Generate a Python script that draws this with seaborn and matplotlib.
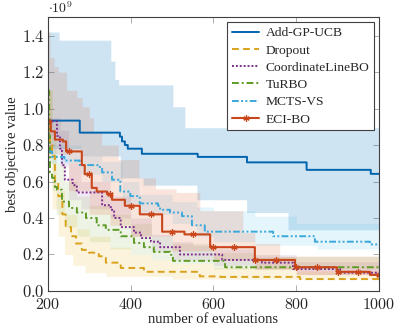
import numpy as np
import pandas as pd
import matplotlib
matplotlib.use("Agg")
import matplotlib.pyplot as plt
from matplotlib.ticker import FuncFormatter
import seaborn as sns

# ---------------- data (values in units of 1e9) ----------------
methods = ["Add-GP-UCB", "Dropout", "CoordinateLineBO", "TuRBO", "MCTS-VS", "ECI-BO"]

add_x = [200, 277, 374, 379, 386, 393, 427, 562, 681, 825, 980, 1000]
add_y = [0.934, 0.868, 0.846, 0.82, 0.80, 0.78, 0.752, 0.735, 0.705, 0.664, 0.642, 0.642]
add_up_x = [200, 227, 352, 362, 371, 502, 531, 1000]
add_up_y = [1.42, 1.375, 1.26, 1.16, 1.13, 1.01, 0.895, 0.895]
add_lo_x = [200, 280, 375, 430, 560, 680, 780, 1000]
add_lo_y = [0.78, 0.74, 0.62, 0.58, 0.50, 0.43, 0.335, 0.335]

drop_x = [200, 205, 210, 217, 225, 235, 243, 256, 268, 282, 299, 323, 340, 376, 432, 567, 616, 809, 1000]
drop_y = [0.90, 0.80, 0.74, 0.60, 0.52, 0.42, 0.35, 0.30, 0.26, 0.225, 0.21, 0.19, 0.155, 0.126, 0.105, 0.08, 0.077, 0.065, 0.055]
drop_up_x = [200, 210, 220, 240, 270, 300, 350, 400, 450, 500, 600, 800, 1000]
drop_up_y = [1.10, 0.75, 0.55, 0.42, 0.34, 0.30, 0.24, 0.20, 0.17, 0.15, 0.13, 0.11, 0.10]
drop_lo_x = [200, 210, 225, 240, 260, 290, 340, 500, 1000]
drop_lo_y = [0.70, 0.45, 0.30, 0.20, 0.14, 0.10, 0.08, 0.065, 0.045]

cl_x = [200, 222, 229, 234, 241, 260, 270, 331, 352, 360, 376, 408, 425, 449, 471, 519, 621, 717, 792, 906, 1000]
cl_y = [0.93, 0.85, 0.78, 0.69, 0.61, 0.58, 0.54, 0.47, 0.445, 0.40, 0.35, 0.32, 0.29, 0.27, 0.24, 0.20, 0.17, 0.155, 0.12, 0.10, 0.095]
cl_up_x = [200, 230, 250, 280, 350, 400, 450, 500, 550, 600, 700, 800, 1000]
cl_up_y = [0.95, 0.88, 0.70, 0.60, 0.52, 0.40, 0.31, 0.27, 0.25, 0.23, 0.20, 0.16, 0.13]
cl_lo_x = [200, 230, 250, 280, 350, 400, 450, 500, 600, 700, 800, 1000]
cl_lo_y = [0.85, 0.68, 0.50, 0.45, 0.40, 0.30, 0.22, 0.17, 0.14, 0.12, 0.09, 0.07]

tr_x = [200, 203, 205, 210, 217, 222, 234, 251, 270, 292, 318, 340, 376, 408, 432, 456, 495, 502, 628, 1000]
tr_y = [1.10, 0.85, 0.65, 0.62, 0.57, 0.555, 0.49, 0.455, 0.43, 0.40, 0.36, 0.335, 0.30, 0.263, 0.24, 0.214, 0.198, 0.165, 0.13, 0.125]
tr_up_x = [200, 210, 220, 240, 270, 300, 350, 400, 450, 500, 600, 700, 1000]
tr_up_y = [1.10, 0.85, 0.70, 0.60, 0.52, 0.47, 0.42, 0.37, 0.30, 0.26, 0.21, 0.19, 0.17]
tr_lo_x = [200, 210, 220, 240, 270, 300, 350, 400, 450, 500, 600, 1000]
tr_lo_y = [0.90, 0.55, 0.42, 0.35, 0.30, 0.27, 0.23, 0.20, 0.17, 0.15, 0.12, 0.09]

mc_x = [200, 210, 240, 277, 322, 331, 355, 375, 399, 422, 466, 471, 495, 524, 548, 579, 744, 845, 978, 1000]
mc_y = [0.765, 0.735, 0.715, 0.69, 0.68, 0.65, 0.61, 0.545, 0.52, 0.48, 0.467, 0.445, 0.43, 0.41, 0.36, 0.325, 0.30, 0.27, 0.255, 0.255]
mc_up_x = [200, 280, 330, 380, 420, 500, 560, 600, 700, 800, 1000]
mc_up_y = [0.80, 0.74, 0.71, 0.60, 0.53, 0.49, 0.46, 0.44, 0.41, 0.37, 0.335]
mc_lo_x = [200, 280, 330, 380, 420, 500, 560, 600, 700, 850, 1000]
mc_lo_y = [0.70, 0.64, 0.60, 0.48, 0.42, 0.37, 0.30, 0.27, 0.25, 0.23, 0.22]

eci_x = [200, 207, 217, 236, 244, 282, 289, 306, 318, 343, 355, 386, 422, 476, 530, 592, 700, 797, 898, 978, 1000]
eci_y = [0.93, 0.875, 0.83, 0.82, 0.765, 0.69, 0.64, 0.565, 0.545, 0.53, 0.50, 0.467, 0.42, 0.325, 0.31, 0.24, 0.17, 0.13, 0.105, 0.088, 0.088]
eci_up_x = [200, 205, 215, 225, 245, 270, 283, 300, 310, 330, 370, 420, 460, 510, 567, 671, 700, 760, 1000]
eci_up_y = [1.42, 1.28, 1.23, 1.20, 1.10, 1.06, 1.01, 0.95, 0.87, 0.80, 0.72, 0.62, 0.56, 0.54, 0.44, 0.32, 0.26, 0.19, 0.16]
eci_lo_x = [200, 250, 300, 350, 400, 500, 600, 700, 800, 1000]
eci_lo_y = [0.75, 0.55, 0.42, 0.36, 0.30, 0.22, 0.17, 0.12, 0.09, 0.06]

series = {
    "Add-GP-UCB": (add_x, add_y, add_lo_x, add_lo_y, add_up_x, add_up_y),
    "Dropout": (drop_x, drop_y, drop_lo_x, drop_lo_y, drop_up_x, drop_up_y),
    "CoordinateLineBO": (cl_x, cl_y, cl_lo_x, cl_lo_y, cl_up_x, cl_up_y),
    "TuRBO": (tr_x, tr_y, tr_lo_x, tr_lo_y, tr_up_x, tr_up_y),
    "MCTS-VS": (mc_x, mc_y, mc_lo_x, mc_lo_y, mc_up_x, mc_up_y),
    "ECI-BO": (eci_x, eci_y, eci_lo_x, eci_lo_y, eci_up_x, eci_up_y),
}

colors = {
    "Add-GP-UCB": "#0064AE",
    "Dropout": "#D9A21B",
    "CoordinateLineBO": "#7E2F8E",
    "TuRBO": "#5E9A26",
    "MCTS-VS": "#3AA8DA",
    "ECI-BO": "#C8461A",
}
band_colors = {
    "Add-GP-UCB": "#0072BD",
    "Dropout": "#EDB120",
    "CoordinateLineBO": "#7E2F8E",
    "TuRBO": "#77AC30",
    "MCTS-VS": "#4DBEEE",
    "ECI-BO": "#D95319",
}
band_alpha = {
    "Add-GP-UCB": 0.19,
    "Dropout": 0.15,
    "CoordinateLineBO": 0.10,
    "TuRBO": 0.12,
    "MCTS-VS": 0.14,
    "ECI-BO": 0.15,
}
styles = {
    "Add-GP-UCB": "-",
    "Dropout": (0, (3.5, 2.2)),
    "CoordinateLineBO": (0, (1, 1)),
    "TuRBO": (0, (3.5, 1.5, 1, 1.5)),
    "MCTS-VS": (0, (3.5, 1.2, 1, 1.2, 1, 1.2)),
    "ECI-BO": "-",
}

grid = np.arange(200, 1001)


def step_fill(xs, ys):
    return pd.Series(ys, index=xs).reindex(grid, method="ffill").to_numpy()


# ---------------- figure ----------------
sns.set_style("ticks")
plt.rcParams["font.family"] = ["Liberation Serif", "DejaVu Serif"]
plt.rcParams["mathtext.fontset"] = "cm"

fig = plt.figure(figsize=(3.99, 3.28), dpi=100)
ax = fig.add_axes([0.12, 0.113, 0.83, 0.834])

for m in methods:
    xs, ys, lx, ly, ux, uy = series[m]
    ax.fill_between(grid, step_fill(lx, ly), step_fill(ux, uy), step="post",
                    color=band_colors[m], alpha=band_alpha[m], lw=0)

for m in methods:
    xs, ys, *_ = series[m]
    df = pd.DataFrame({"evals": grid, "value": step_fill(xs, ys)})
    kw = dict(color=colors[m], linestyle=styles[m], linewidth=1.4,
              drawstyle="steps-post", label=m)
    if m == "ECI-BO":
        kw.update(marker=(6, 2, 0), markersize=4.5, markeredgewidth=0.9,
                  markeredgecolor=colors[m], markerfacecolor=colors[m],
                  markevery=50, linewidth=1.5)
    sns.lineplot(data=df, x="evals", y="value", ax=ax, **kw)

ax.set_xlim(200, 1000)
ax.set_ylim(0, 1.5)
ax.set_xticks([200, 400, 600, 800, 1000])
ax.set_yticks([0.0, 0.2, 0.4, 0.6, 0.8, 1.0, 1.2, 1.4])
ax.xaxis.set_major_formatter(FuncFormatter(lambda v, p: rf"${v:.0f}$"))
ax.yaxis.set_major_formatter(FuncFormatter(lambda v, p: rf"${v:.1f}$"))
ax.tick_params(direction="in", length=4, width=0.6, color="#a0a0a0",
               top=True, right=True, labelsize=12)
ax.tick_params(axis="x", pad=4.6, labelsize=11.5)
ax.tick_params(axis="y", pad=2.5)
for s in ax.spines.values():
    s.set_color("#404040")
    s.set_linewidth(0.8)

ax.set_xlabel("number of evaluations", fontsize=10.5, labelpad=0)
ax.set_ylabel("best objective value", fontsize=10.5, labelpad=2)
ax.text(0.0, 1.004, r"$\cdot 10^{9}$", transform=ax.transAxes,
        ha="left", va="bottom", fontsize=10)

leg = ax.legend(loc="upper right", fontsize=9.7, frameon=True, fancybox=False,
                edgecolor="#404040", framealpha=1, handlelength=2.0,
                labelspacing=0.36, borderpad=0.35, handletextpad=0.5,
                borderaxespad=0.35)
leg.get_frame().set_linewidth(0.8)

fig.savefig("out.png", dpi=100)
